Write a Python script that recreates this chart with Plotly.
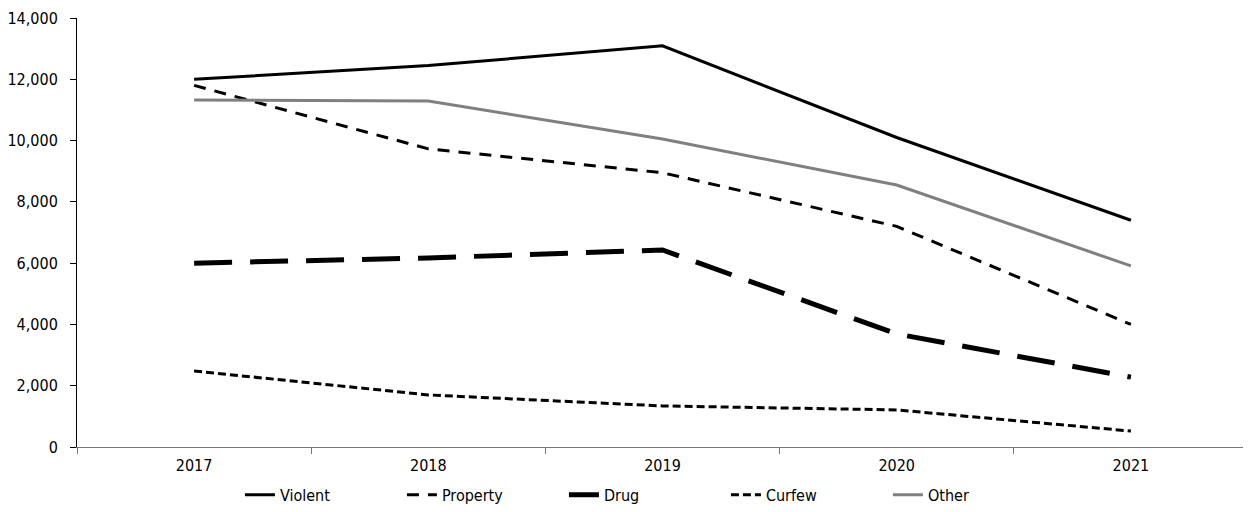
import plotly.graph_objects as go

years = ["2017", "2018", "2019", "2020", "2021"]
violent = [12000, 12450, 13090, 10100, 7400]
property_ = [11800, 9730, 8950, 7200, 4000]
drug = [6000, 6170, 6430, 3690, 2280]
curfew = [2480, 1700, 1340, 1210, 520]
other = [11320, 11290, 10050, 8550, 5910]

FONT = "DejaVu Sans Condensed, Liberation Sans Narrow, sans-serif"

series = [
    ("Violent", violent, dict(color="black", width=3, dash="solid")),
    ("Property", property_, dict(color="black", width=3, dash="12px,9px")),
    ("Drug", drug, dict(color="black", width=5, dash="38px,18px")),
    ("Curfew", curfew, dict(color="black", width=3, dash="8px,4px")),
    ("Other", other, dict(color="#808080", width=3, dash="solid")),
]

fig = go.Figure()
for name, vals, line in series:
    fig.add_trace(go.Scatter(x=years, y=vals, name=name, mode="lines", line=line))

# page body has an 8px margin, so the figure is sized and offset for it
fig.update_layout(
    width=1243,
    height=504,
    margin=dict(l=69, r=3, t=10, b=65),
    paper_bgcolor="white",
    plot_bgcolor="white",
    font=dict(family=FONT, size=16, color="black"),
    showlegend=True,
    legend=dict(
        orientation="h",
        x=0.485,
        xanchor="center",
        yref="container",
        y=0.034,
        yanchor="middle",
        font=dict(size=16),
        entrywidth=117,
        entrywidthmode="pixels",
    ),
)

fig.update_xaxes(
    type="category",
    range=[-0.5, 4.5],
    automargin=False,
    showline=True,
    linecolor="#777777",
    linewidth=1,
    ticks="outside",
    tickson="boundaries",
    ticklen=6,
    tickcolor="#777777",
    ticklabelstandoff=4,
    showgrid=False,
    zeroline=False,
)

fig.update_yaxes(
    range=[0, 14000],
    dtick=2000,
    tickformat=",d",
    automargin=False,
    showline=True,
    linecolor="black",
    linewidth=1,
    ticks="outside",
    ticklen=6,
    tickcolor="black",
    ticklabelstandoff=9,
    showgrid=False,
    zeroline=False,
)

fig.write_html("out.html")
